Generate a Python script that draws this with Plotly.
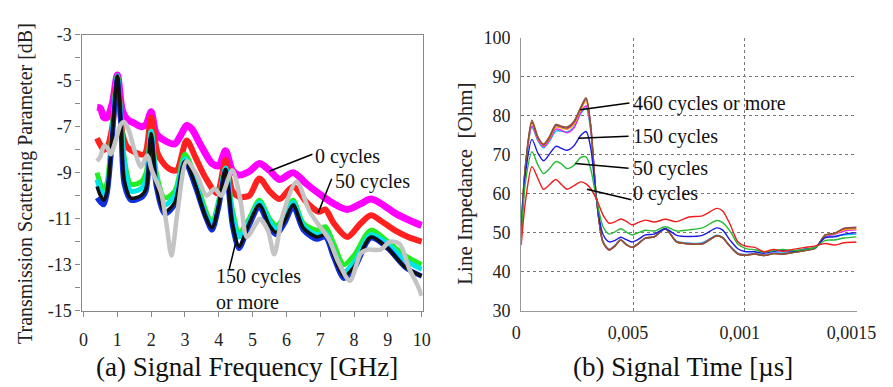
import plotly.graph_objects as go

# ---------------- (a) Transmission scattering parameter ----------------
f_main = [0.4, 0.5, 0.6, 0.7, 0.8, 0.9, 1.0, 1.1, 1.2, 1.4, 1.7, 1.85, 2.0, 2.15, 2.4, 2.7,
          3.0, 3.3, 3.6, 3.8, 4.0, 4.2, 4.4, 4.6, 4.9, 5.2, 5.5, 5.7, 5.95, 6.2, 6.5, 6.9,
          7.15, 7.4, 7.7, 8.0, 8.5, 9.0, 9.5, 10.0]

f_0cyc = [0.4, 0.5, 0.6, 0.7, 0.85, 1.0, 1.15, 1.3, 1.5, 1.7, 1.85, 2.0, 2.15, 2.4, 2.7, 2.9,
          3.05, 3.2, 3.5, 3.8, 4.0, 4.2, 4.4, 4.6, 4.9, 5.2, 5.5, 5.8, 6.2, 6.6, 7.0, 7.4,
          7.8, 8.2, 8.5, 8.8, 9.2, 9.6, 10.0]
s21_0cyc = [-6.15, -6.2, -6.6, -6.6, -6.0, -4.75, -6.3, -6.7, -6.85, -7.0, -6.9, -6.35, -7.3,
            -7.6, -7.75, -7.3, -6.95, -7.1, -7.9, -8.6, -8.7, -8.05, -8.9, -9.1, -8.95, -8.6,
            -8.9, -9.3, -9.0, -9.5, -9.95, -10.35, -10.6, -10.35, -10.15, -10.35, -10.75,
            -11.05, -11.3]

f_50cyc = [0.4, 0.5, 0.6, 0.7, 0.85, 1.0, 1.15, 1.3, 1.5, 1.8, 2.0, 2.2, 2.5, 2.75, 3.05, 3.3,
           3.6, 3.95, 4.2, 4.4, 4.6, 4.9, 5.2, 5.5, 5.8, 6.2, 6.6, 6.95, 7.15, 7.4, 7.8, 8.2,
           8.5, 8.8, 9.2, 9.6, 10.0]
s21_50cyc = [-7.5, -7.8, -8.0, -7.9, -7.0, -4.85, -7.3, -7.9, -8.1, -8.2, -6.6, -8.2, -8.8,
             -8.9, -7.6, -8.3, -9.2, -9.9, -8.45, -9.8, -10.05, -10.0, -9.25, -9.8, -10.15,
             -9.6, -10.3, -10.7, -10.6, -11.2, -11.8, -11.2, -10.85, -11.1, -11.5, -11.8, -12.0]

s21_green = [-9.0, -9.5, -9.8, -9.4, -8.0, -6.2, -4.8, -6.5, -8.3, -9.5, -9.4, -9.0, -7.2, -9.0,
             -10.1, -9.8, -8.2, -9.2, -10.6, -11.2, -10.2, -8.8, -10.6, -11.6, -11.0, -10.2,
             -11.0, -11.3, -10.9, -10.2, -11.2, -11.5, -11.35, -12.1, -13.0, -12.6, -11.5,
             -12.0, -12.6, -13.0]
s21_cyan = [-9.3, -9.8, -10.1, -9.7, -8.2, -6.3, -4.8, -6.6, -8.5, -9.8, -9.7, -9.3, -7.2, -9.2,
            -10.4, -10.0, -8.4, -9.4, -10.8, -11.3, -10.3, -8.8, -10.8, -11.8, -11.1, -10.3,
            -11.1, -11.45, -11.0, -10.3, -11.3, -11.7, -11.6, -12.4, -13.3, -12.9, -11.7,
            -12.1, -12.8, -13.2]
s21_blue = [-10.1, -10.3, -10.4, -9.9, -8.5, -6.5, -4.9, -6.8, -9.5, -10.2, -10.1, -9.8, -7.5,
            -9.6, -10.8, -10.4, -8.55, -9.6, -10.9, -11.5, -10.5, -8.9, -11.3, -12.3, -11.3,
            -10.5, -11.4, -11.7, -11.2, -10.5, -11.5, -11.9, -11.8, -12.7, -13.6, -13.2,
            -11.85, -12.3, -13.1, -13.5]
s21_black = [-9.6, -10.0, -10.2, -9.8, -8.3, -6.4, -4.8, -6.7, -9.3, -10.1, -10.0, -9.7, -7.3,
             -9.5, -10.7, -10.3, -8.5, -9.5, -10.9, -11.4, -10.4, -8.85, -11.2, -12.2, -11.2,
             -10.4, -11.3, -11.6, -11.1, -10.4, -11.4, -11.8, -11.7, -12.6, -13.5, -13.1,
             -11.8, -12.3, -13.1, -13.5]

f_gray = [0.4, 0.5, 0.6, 0.7, 0.8, 0.95, 1.1, 1.2, 1.35, 1.5, 1.7, 1.88, 2.02, 2.3, 2.45, 2.6,
          2.78, 3.05, 3.35, 3.64, 3.88, 4.07, 4.4, 4.64, 4.83, 5.07, 5.21, 5.45, 5.64, 5.88,
          6.3, 6.69, 7.02, 7.26, 7.54, 7.88, 8.2, 8.4, 8.78, 9.07, 9.35, 9.64, 9.88, 10.0]
s21_gray = [-8.5, -8.3, -7.85, -7.9, -8.2, -7.6, -6.9, -6.8, -7.2, -8.0, -8.75, -8.25, -8.9,
            -9.9, -11.2, -12.6, -10.7, -8.5, -9.1, -10.0, -9.7, -10.0, -8.9, -10.2, -11.8,
            -11.3, -11.0, -11.5, -12.55, -10.9, -9.4, -10.7, -11.4, -11.9, -12.9, -13.7,
            -12.5, -12.35, -12.35, -12.0, -12.1, -13.2, -13.9, -14.35]

freq_ticks = [0, 1, 2, 3, 4, 5, 6, 7, 8, 9, 10]
s21_ticks = [-3, -5, -7, -9, -11, -13, -15]
s21_ticktext = ["-3", "-5", "-7", "-9", "-11", "-13", "-15"]

# ---------------- (b) Line impedance ----------------
t_us = [0, 0.2e-4, 0.48e-4, 0.75e-4, 1.0e-4, 1.25e-4, 1.55e-4, 1.8e-4, 2.05e-4, 2.35e-4,
        2.65e-4, 2.9e-4, 3.1e-4, 3.37e-4, 3.66e-4, 3.94e-4, 4.2e-4, 4.45e-4, 4.7e-4, 4.95e-4,
        5.25e-4, 5.55e-4, 5.95e-4, 6.45e-4, 6.95e-4, 7.5e-4, 8.1e-4, 8.75e-4, 9.0e-4, 9.35e-4,
        9.7e-4, 10.05e-4, 10.45e-4, 10.85e-4, 11.3e-4, 11.7e-4, 12.15e-4, 12.7e-4, 13.15e-4,
        13.6e-4, 14.0e-4, 14.45e-4, 15.0e-4]

z_0cyc = [46.8, 58.5, 66.9, 63.8, 61.1, 62.2, 63.6, 62.3, 61.1, 62.0, 63.0, 62.5, 61.3, 58.5,
          54.5, 52.4, 52.8, 53.5, 52.9, 52.0, 52.6, 53.2, 52.7, 53.4, 52.8, 54.0, 54.3, 56.2,
          55.6, 52.0, 47.6, 46.5, 46.2, 45.1, 45.7, 45.2, 45.7, 46.2, 46.6, 47.2, 46.8, 47.4,
          47.6]
z_50cyc = [48.8, 63.4, 70.7, 67.3, 65.1, 66.3, 68.2, 67.6, 66.4, 67.2, 69.2, 69.4, 66.5, 58.5,
           51.5, 49.6, 50.2, 51.0, 50.2, 49.4, 50.0, 50.6, 50.4, 51.5, 50.4, 50.7, 51.2, 53.1,
           52.6, 50.3, 47.0, 45.9, 45.6, 45.0, 45.4, 45.7, 45.4, 45.7, 46.2, 48.0, 48.1, 48.6,
           48.9]
z_150cyc = [50.4, 65.5, 73.9, 70.3, 68.4, 70.0, 72.1, 71.6, 71.1, 72.2, 74.8, 75.9, 72.0, 58.5,
            49.5, 47.6, 48.0, 48.8, 48.2, 47.6, 48.3, 49.4, 49.6, 51.0, 49.3, 49.0, 49.3, 51.2,
            50.7, 48.0, 45.8, 45.1, 45.1, 44.7, 45.2, 45.4, 45.2, 45.8, 46.2, 48.7, 48.9, 49.6,
            50.0]
z_cyan = [51.2, 67.0, 77.0, 73.5, 71.7, 73.3, 76.0, 76.0, 75.8, 77.0, 80.3, 82.0, 76.5, 58.5,
          47.7, 45.8, 46.8, 48.2, 47.0, 46.3, 47.3, 48.6, 48.9, 50.9, 47.8, 47.3, 47.4, 49.3,
          48.8, 46.5, 44.7, 44.4, 44.7, 44.3, 44.8, 44.8, 45.1, 45.6, 46.1, 48.9, 49.1, 49.4,
          49.6]
z_magenta = [51.4, 67.2, 77.3, 73.7, 72.0, 73.6, 76.5, 76.2, 75.6, 76.8, 80.6, 82.5, 77.0, 58.5,
             47.6, 45.7, 46.7, 48.1, 46.9, 46.2, 47.2, 48.6, 48.9, 51.0, 47.7, 47.2, 47.2, 49.2,
             48.7, 46.4, 44.6, 44.3, 44.6, 44.2, 44.7, 44.6, 45.0, 45.5, 46.0, 49.1, 49.5,
             50.4, 50.7]
z_orange = [51.7, 67.6, 78.0, 74.1, 72.3, 74.0, 77.0, 76.8, 76.5, 77.7, 81.3, 83.8, 77.5, 58.5,
            47.5, 45.6, 46.6, 48.1, 46.9, 46.2, 47.2, 48.6, 48.9, 51.0, 47.6, 47.1, 47.1, 49.2,
            48.7, 46.4, 44.5, 44.2, 44.5, 44.1, 44.6, 44.5, 44.9, 45.4, 46.0, 49.3, 49.7,
            50.8, 51.0]
z_purple = [51.8, 67.8, 78.3, 74.3, 72.5, 74.3, 77.4, 77.1, 76.8, 78.2, 81.8, 84.3, 77.8, 58.5,
            47.5, 45.5, 46.6, 48.1, 46.9, 46.2, 47.2, 48.6, 48.9, 51.0, 47.6, 47.1, 47.1, 49.2,
            48.7, 46.4, 44.5, 44.2, 44.5, 44.1, 44.6, 44.5, 44.9, 45.4, 46.0, 49.4, 49.8, 51.1,
            51.4]
z_brown = [52.0, 68.0, 78.8, 74.5, 72.7, 74.5, 77.7, 77.3, 77.1, 78.5, 82.0, 84.6, 78.0, 58.5,
           47.5, 45.5, 46.6, 48.1, 46.9, 46.2, 47.2, 48.6, 48.9, 51.0, 47.6, 47.1, 47.1, 49.2,
           48.7, 46.4, 44.5, 44.2, 44.5, 44.1, 44.6, 44.5, 44.9, 45.4, 46.0, 49.4, 49.8, 51.0,
           51.2]

time_tickvals = [0, 0.0005, 0.001, 0.0015]
time_ticktext = ["0", "0,005", "0,001", "0,0015"]
z_ticks = [30, 40, 50, 60, 70, 80, 90, 100]

SERIF = "Liberation Serif"
fig = go.Figure()

left_series = [
    (f_0cyc, s21_0cyc, "#FF00FF", 7, "0 cycles"),
    (f_50cyc, s21_50cyc, "#FF2020", 6, "50 cycles"),
    (f_main, s21_green, "#22EE22", 5, "green"),
    (f_main, s21_cyan, "#00E5E5", 5, "cyan"),
    (f_main, s21_blue, "#1030E0", 5, "blue"),
    (f_main, s21_black, "#101010", 3.5, "black"),
    (f_gray, s21_gray, "#C4C4C4", 4.5, "gray"),
]
for xs, ys, col, w, name in left_series:
    fig.add_trace(go.Scatter(x=xs, y=ys, mode="lines", name=name,
                             line=dict(color=col, width=w, shape="spline", smoothing=0.8),
                             xaxis="x", yaxis="y", showlegend=False))

right_series = [
    (z_cyan, "#00CCEE"), (z_magenta, "#EE22EE"), (z_orange, "#FF9900"),
    (z_purple, "#8B2A8B"), (z_brown, "#8B5A2B"),
    (z_150cyc, "#1A1AE6"), (z_50cyc, "#22BB33"), (z_0cyc, "#EE1C1C"),
]
for ys, col in right_series:
    fig.add_trace(go.Scatter(x=t_us, y=ys, mode="lines",
                             line=dict(color=col, width=1.4, shape="spline", smoothing=0.8),
                             xaxis="x2", yaxis="y2", showlegend=False))

tickfont = dict(family=SERIF, size=18, color="#222")
fig.update_layout(
    width=893, height=387, margin=dict(l=0, r=0, t=0, b=0),
    paper_bgcolor="white", plot_bgcolor="white",
    font=dict(family=SERIF),
    xaxis=dict(domain=[74 / 893, 427 / 893], range=[-0.06, 10.03], tickvals=freq_ticks,
               showline=True, linecolor="#888", linewidth=1.2, mirror=True,
               ticks="outside", ticklen=5, tickcolor="#888", showgrid=False, zeroline=False,
               tickfont=tickfont, anchor="y", ticklabelstandoff=8),
    yaxis=dict(domain=[1 - 317 / 387, 1 - 26 / 387], range=[-15, -3], tickvals=s21_ticks,
               ticktext=s21_ticktext,
               showline=True, linecolor="#888", linewidth=1.2, mirror=True,
               ticks="outside", ticklen=5, tickcolor="#888", showgrid=False, zeroline=False,
               minor=dict(dtick=1, ticks="outside", ticklen=5, tickcolor="#888"),
               tickfont=tickfont, anchor="x"),
    xaxis2=dict(domain=[529 / 893, 876 / 893], range=[0, 0.0015], tickvals=time_tickvals,
                ticktext=time_ticktext, showline=True, linecolor="#999", linewidth=1.2,
                ticks="", showgrid=True, gridcolor="#777", griddash="dot", gridwidth=1,
                zeroline=False, tickfont=tickfont, ticklabelshift=-5, ticklabelstandoff=6,
                anchor="y2"),
    yaxis2=dict(domain=[1 - 317 / 387, 1 - 29 / 387], range=[30, 100], tickvals=z_ticks,
                showline=True, linecolor="#999", linewidth=1.2, ticks="",
                showgrid=True, gridcolor="#777", griddash="dot", gridwidth=1,
                zeroline=False, tickfont=tickfont, ticklabelstandoff=6, anchor="x2"),
)

lbl = dict(family=SERIF, size=20, color="#111")
anns = [
    dict(x=6.8, y=-8.28, xref="x", yref="y", text="0 cycles", xanchor="left"),
    dict(x=7.37, y=-9.39, xref="x", yref="y", text="50 cycles", xanchor="left"),
    dict(x=3.85, y=-14.05, xref="x", yref="y", text="150 cycles<br>or more", xanchor="left",
         align="left"),
    dict(x=4.93e-4, y=83.2, xref="x2", yref="y2", text="460 cycles or more", xanchor="left"),
    dict(x=4.93e-4, y=74.7, xref="x2", yref="y2", text="150 cycles", xanchor="left"),
    dict(x=4.93e-4, y=66.5, xref="x2", yref="y2", text="50 cycles", xanchor="left"),
    dict(x=4.93e-4, y=60.1, xref="x2", yref="y2", text="0 cycles", xanchor="left"),
    dict(x=16 / 893, y=1 - 183 / 387, xref="paper", yref="paper", textangle=-90,
         xanchor="center",
         text="Transmission Scattering Parameter [dB]", font=dict(family=SERIF, size=20, color="#222")),
    dict(x=470 / 893, y=1 - 183 / 387, xref="paper", yref="paper", textangle=-90,
         xanchor="center",
         text="Line Impedance  [Ohm]", font=dict(family=SERIF, size=21, color="#222")),
    dict(x=245 / 893, y=1 - 376 / 387, xref="paper", yref="paper", xanchor="center",
         text="(a) Signal Frequency [GHz]", font=dict(family=SERIF, size=27, color="#111")),
    dict(x=696 / 893, y=1 - 376 / 387, xref="paper", yref="paper", xanchor="center",
         text="(b) Signal Time [µs]", font=dict(family=SERIF, size=27, color="#111")),
]
for a in anns:
    a.setdefault("font", lbl)
    a["showarrow"] = False
    a.setdefault("yanchor", "middle")
    fig.add_annotation(**a)

leaders = [
    ("x", "y", 5.49, -8.94, 6.77, -8.2),
    ("x", "y", 6.94, -10.75, 7.34, -9.27),
    ("x", "y", 4.31, -13.19, 4.49, -12.11),
    ("x2", "y2", 2.64e-4, 81.5, 4.84e-4, 83.2),
    ("x2", "y2", 2.55e-4, 74.2, 4.8e-4, 74.7),
    ("x2", "y2", 2.42e-4, 67.7, 4.8e-4, 66.5),
    ("x2", "y2", 2.94e-4, 61.1, 4.93e-4, 58.4),
]
for xr, yr, x0, y0, x1, y1 in leaders:
    fig.add_shape(type="line", xref=xr, yref=yr, x0=x0, y0=y0, x1=x1, y1=y1,
                  line=dict(color="black", width=1.5))

fig.write_html("out.html")
